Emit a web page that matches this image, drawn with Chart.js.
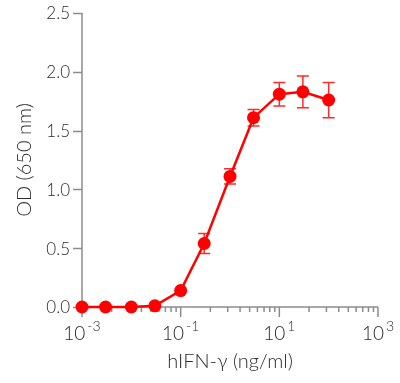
<!DOCTYPE html>
<html>
<head>
<meta charset="utf-8">
<script src="https://cdn.jsdelivr.net/npm/chart.js@4"></script>
<style>
html, body { margin: 0; padding: 0; background: #fff; }
#wrap { width: 400px; height: 383px; }
</style>
</head>
<body>
<div id="wrap"><canvas id="odChart"></canvas></div>
<script>
// dose (ng/ml), mean OD and error bar half-height
const doses = [0.001, 0.003, 0.01, 0.03, 0.1, 0.3, 1, 3, 10, 30, 100];
const odMean = [0, 0, 0, 0.01, 0.14, 0.54, 1.11, 1.61, 1.81, 1.83, 1.76];
const odErr = [0, 0, 0, 0, 0, 0.085, 0.065, 0.07, 0.1, 0.135, 0.15];

// axis ticks
const xMajorExp = [-3, -1, 1, 3];
const yTicks = [0, 0.5, 1.0, 1.5, 2.0, 2.5];
const xTitle = 'hIFN-γ (ng/ml)';
const yTitle = 'OD (650 nm)';

const RED = '#ff0000';
const AXIS = '#8c8c8c';
const TEXT = '#2b2b2b';
const FONT = 'Lato, "Open Sans", sans-serif';

const axesPlugin = {
    id: 'axesAndErrors',
    beforeDatasetsDraw(chart) {
        const { ctx, chartArea: a, scales: { x, y } } = chart;
        ctx.save();
        ctx.strokeStyle = AXIS;
        ctx.lineWidth = 1.5;

        // axis lines
        ctx.beginPath();
        ctx.moveTo(a.left, a.top);
        ctx.lineTo(a.left, a.bottom);
        ctx.moveTo(a.left, a.bottom);
        ctx.lineTo(a.right, a.bottom);
        ctx.stroke();

        // y ticks + labels
        ctx.beginPath();
        yTicks.forEach(v => {
            const py = Math.round(y.getPixelForValue(v)) + 0.5;
            ctx.moveTo(a.left - 9, py);
            ctx.lineTo(a.left, py);
        });
        ctx.stroke();
        ctx.fillStyle = TEXT;
        ctx.font = '300 17px ' + FONT;
        ctx.textAlign = 'right';
        ctx.textBaseline = 'middle';
        yTicks.forEach(v => {
            ctx.fillText(v.toFixed(1), 70, y.getPixelForValue(v) + 1);
        });

        // x ticks: majors every 2 decades, minors at base * m^2
        ctx.beginPath();
        xMajorExp.forEach((e, i) => {
            const base = Math.pow(10, e);
            const px = x.getPixelForValue(base);
            ctx.moveTo(px, a.bottom);
            ctx.lineTo(px, a.bottom + 10);
            if (i < xMajorExp.length - 1) {
                for (let m = 2; m <= 9; m++) {
                    const mx = x.getPixelForValue(base * m * m);
                    ctx.moveTo(mx, a.bottom);
                    ctx.lineTo(mx, a.bottom + 5);
                }
            }
        });
        ctx.stroke();

        // x tick labels with superscript exponent
        ctx.textBaseline = 'alphabetic';
        ctx.textAlign = 'left';
        xMajorExp.forEach(e => {
            const px = x.getPixelForValue(Math.pow(10, e));
            const baseTxt = '10';
            const expTxt = (e < 0 ? '-' : '') + Math.abs(e);
            ctx.font = '300 19px ' + FONT;
            const w1 = ctx.measureText(baseTxt).width;
            ctx.font = '300 14px ' + FONT;
            const w2 = ctx.measureText(expTxt).width;
            const start = px - (w1 + w2 + 2) / 2;
            ctx.font = '300 19px ' + FONT;
            ctx.fillText(baseTxt, start, a.bottom + 33);
            ctx.font = '300 14px ' + FONT;
            ctx.fillText(expTxt, start + w1 + 2, a.bottom + 24);
        });

        // axis titles
        ctx.font = '300 20px ' + FONT;
        ctx.textAlign = 'center';
        ctx.fillText(xTitle, (a.left + a.right) / 2, 368);
        ctx.save();
        ctx.translate(25, (a.top + a.bottom) / 2);
        ctx.rotate(-Math.PI / 2);
        ctx.textBaseline = 'middle';
        ctx.fillText(yTitle, 0, 0);
        ctx.restore();

        // error bars
        ctx.strokeStyle = '#ff2a2a';
        ctx.lineWidth = 1.5;
        ctx.beginPath();
        doses.forEach((d, i) => {
            if (!odErr[i]) return;
            const px = x.getPixelForValue(d);
            const top = y.getPixelForValue(odMean[i] + odErr[i]);
            const bot = y.getPixelForValue(odMean[i] - odErr[i]);
            ctx.moveTo(px, top);
            ctx.lineTo(px, bot);
            ctx.moveTo(px - 6, top);
            ctx.lineTo(px + 6, top);
            ctx.moveTo(px - 6, bot);
            ctx.lineTo(px + 6, bot);
        });
        ctx.stroke();
        ctx.restore();
    }
};

new Chart(document.getElementById('odChart'), {
    type: 'line',
    data: {
        datasets: [{
            data: doses.map((d, i) => ({ x: d, y: odMean[i] })),
            borderColor: RED,
            backgroundColor: RED,
            borderWidth: 2.5,
            pointRadius: 6.5,
            pointHoverRadius: 6.5,
            pointBorderWidth: 0,
            tension: 0,
            clip: false
        }]
    },
    options: {
        responsive: true,
        maintainAspectRatio: false,
        animation: false,
        layout: { padding: { top: 13, right: 22, left: 0, bottom: 0 } },
        plugins: {
            legend: { display: false },
            tooltip: { enabled: false }
        },
        scales: {
            x: {
                type: 'logarithmic',
                min: 0.001,
                max: 1000,
                grid: { display: false },
                border: { display: false },
                ticks: { display: false },
                afterFit: s => { s.height = 76; }
            },
            y: {
                min: 0,
                max: 2.5,
                grid: { display: false },
                border: { display: false },
                ticks: { display: false },
                afterFit: s => { s.width = 82; }
            }
        }
    },
    plugins: [axesPlugin]
});
</script>
</body>
</html>
